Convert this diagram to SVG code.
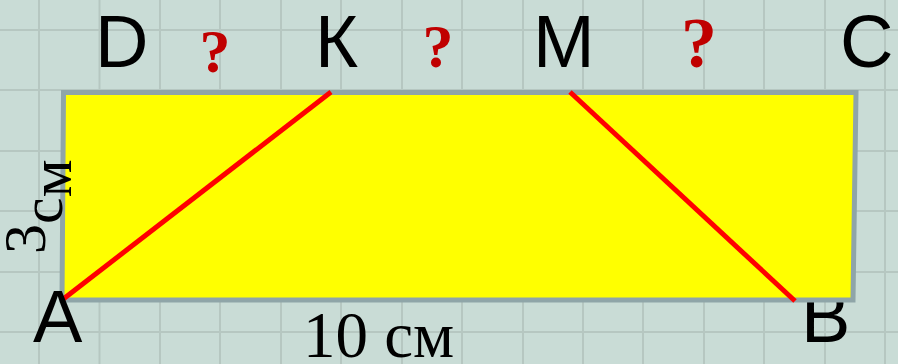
<svg xmlns="http://www.w3.org/2000/svg" width="898" height="364" viewBox="0 0 898 364">
<style>
.grid line{stroke:#b6c7c1;stroke-width:2}
.lbl{font-family:"Liberation Sans",Arial,sans-serif;font-size:74px;fill:#000}
.q{font-family:"Liberation Serif","Times New Roman",serif;font-weight:bold;fill:#c00000;text-anchor:middle}
.dim{font-family:"Liberation Serif","Times New Roman",serif;fill:#000}
.seg{stroke:#ff0000;stroke-width:5;stroke-linecap:butt;fill:none}
</style>
<rect width="898" height="364" fill="#c9dcd6"/>
<g class="grid">
<line x1="39" y1="0" x2="39" y2="364"/>
<line x1="99.5" y1="0" x2="99.5" y2="364"/>
<line x1="160" y1="0" x2="160" y2="364"/>
<line x1="220" y1="0" x2="220" y2="364"/>
<line x1="281" y1="0" x2="281" y2="364"/>
<line x1="341" y1="0" x2="341" y2="364"/>
<line x1="402" y1="0" x2="402" y2="364"/>
<line x1="462" y1="0" x2="462" y2="364"/>
<line x1="523" y1="0" x2="523" y2="364"/>
<line x1="583" y1="0" x2="583" y2="364"/>
<line x1="643" y1="0" x2="643" y2="364"/>
<line x1="704" y1="0" x2="704" y2="364"/>
<line x1="764" y1="0" x2="764" y2="364"/>
<line x1="825" y1="0" x2="825" y2="364"/>
<line x1="885" y1="0" x2="885" y2="364"/>
<line x1="0" y1="30" x2="898" y2="30"/>
<line x1="0" y1="90" x2="898" y2="90"/>
<line x1="0" y1="151" x2="898" y2="151"/>
<line x1="0" y1="211" x2="898" y2="211"/>
<line x1="0" y1="272" x2="898" y2="272"/>
<line x1="0" y1="332" x2="898" y2="332"/>
</g>
<g id="label-B"><text class="lbl" x="801" y="342">B</text></g>
<g id="rectangle">
<polygon points="63.5,92.5 856,92.5 853,300 62,300" fill="#ffff00" stroke="#8fa5a8" stroke-width="5" stroke-linejoin="miter"/>
</g>
<g id="connectors">
<line class="seg" x1="62" y1="300" x2="331" y2="92"/>
<line class="seg" x1="570" y1="92" x2="795" y2="301"/>
</g>
<g id="label-D"><text class="lbl" x="95" y="67">D</text></g>
<g id="label-K"><text class="lbl" x="315" y="67">К</text></g>
<g id="label-M"><text class="lbl" x="533" y="67">M</text></g>
<g id="label-C"><text class="lbl" x="840" y="67">C</text></g>
<g id="label-A"><text class="lbl" x="33" y="342">A</text></g>
<g id="questions">
<text class="q" x="215" y="72" font-size="62">?</text>
<text class="q" x="438" y="67" font-size="62">?</text>
<text class="q" x="699" y="67" font-size="72">?</text>
</g>
<g id="dim-bottom"><text class="dim" x="303" y="357" font-size="65">10 см</text></g>
<g id="dim-left"><text class="dim" font-size="60" transform="rotate(-90)" x="-254" y="45">3<tspan dy="17">с</tspan><tspan dy="9">м</tspan></text></g>
</svg>
